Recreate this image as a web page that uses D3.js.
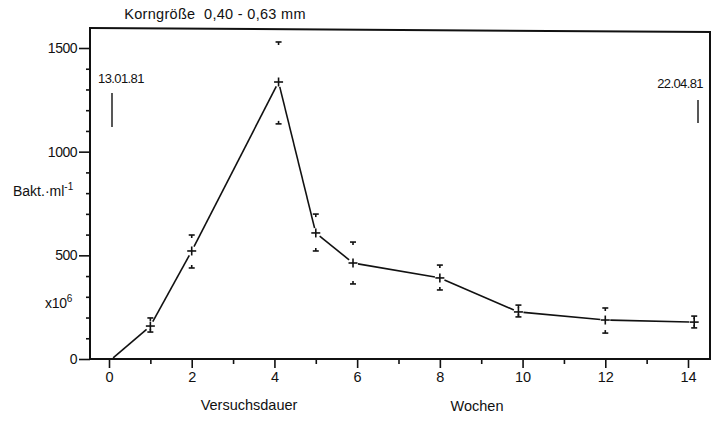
<!DOCTYPE html>
<html>
<head>
<meta charset="utf-8">
<script src="https://cdn.jsdelivr.net/npm/d3@7"></script>
<style>
  html, body { margin: 0; padding: 0; background: #fff; }
  svg { display: block; }
  text { font-family: 'Liberation Sans', Arial, sans-serif; fill: #111; }
</style>
</head>
<body>
<div id="chart"></div>
<script>
(function () {
  'use strict';

  // Versuchsdauer in Wochen, Mittelwert und Streubereich (x10^6 Bakt./ml)
  var WEEKS = [0.1, 1, 2, 4.1, 5, 5.9, 8, 9.9, 12, 14.15];
  var MEANS = [5, 159, 521, 1336, 608, 463, 391, 227, 188, 178];
  var UPPER = [null, 198, 598, 1529, 699, 564, 453, 260, 246, 207];
  var LOWER = [null, 130, 439, 1134, 521, 362, 333, 203, 125, 150];

  var X_MAJOR = [0, 2, 4, 6, 8, 10, 12, 14];
  var X_MINOR = [1, 3, 5, 7, 9, 11, 13];
  var Y_MAJOR = [0, 500, 1000, 1500];
  var Y_MINOR = d3.range(100, 1600, 100).filter(function (v) { return v % 500 !== 0; });

  var WIDTH = 711, HEIGHT = 421;
  var INK = '#111';
  var FONT = 'Liberation Sans, Arial, sans-serif';

  var FRAME_LEFT = 90, FRAME_RIGHT = 710;
  var FRAME_TOP_L = 28, FRAME_TOP_R = 32;

  var x = d3.scaleLinear().domain([0, 14]).range([109, 688]);
  var y = d3.scaleLinear().domain([0, 1500]).range([359, 48]);

  var svg = d3.select('#chart').append('svg')
    .attr('width', WIDTH)
    .attr('height', HEIGHT)
    .attr('viewBox', '0 0 ' + WIDTH + ' ' + HEIGHT);

  // ---- frame ----
  var frame = svg.append('g').attr('stroke', INK).attr('fill', 'none');
  frame.append('line')
    .attr('x1', FRAME_LEFT).attr('y1', FRAME_TOP_L)
    .attr('x2', FRAME_RIGHT + 1).attr('y2', FRAME_TOP_R)
    .attr('stroke-width', 2);
  frame.append('line')
    .attr('x1', FRAME_LEFT).attr('y1', FRAME_TOP_L - 1)
    .attr('x2', FRAME_LEFT).attr('y2', y(0) + 1)
    .attr('stroke-width', 2);
  frame.append('line')
    .attr('x1', FRAME_RIGHT).attr('y1', FRAME_TOP_R)
    .attr('x2', FRAME_RIGHT).attr('y2', y(0) + 1)
    .attr('stroke-width', 2);
  frame.append('line')
    .attr('x1', FRAME_LEFT).attr('y1', y(0))
    .attr('x2', FRAME_RIGHT).attr('y2', y(0))
    .attr('stroke-width', 2);

  // ---- axes ----
  function styleAxis(sel, size) {
    sel.select('.domain').remove();
    sel.selectAll('line').attr('stroke', INK).attr('stroke-width', 1.6);
    sel.selectAll('text')
      .attr('font-family', FONT)
      .attr('font-size', size + 'px')
      .attr('fill', INK);
  }

  var xMajor = svg.append('g')
    .attr('transform', 'translate(0,' + y(0) + ')')
    .call(d3.axisBottom(x).tickValues(X_MAJOR).tickSize(9).tickPadding(4)
      .tickFormat(d3.format('d')));
  styleAxis(xMajor, 14.5);

  var xMinor = svg.append('g')
    .attr('transform', 'translate(0,' + y(0) + ')')
    .call(d3.axisBottom(x).tickValues(X_MINOR).tickSize(5).tickFormat(''));
  styleAxis(xMinor, 14);

  var yMajor = svg.append('g')
    .attr('transform', 'translate(' + FRAME_LEFT + ',0)')
    .call(d3.axisLeft(y).tickValues(Y_MAJOR).tickSize(11).tickPadding(2)
      .tickFormat(d3.format('d')));
  styleAxis(yMajor, 14);
  yMajor.selectAll('text').attr('letter-spacing', '-0.5px');

  var yMinor = svg.append('g')
    .attr('transform', 'translate(' + FRAME_LEFT + ',0)')
    .call(d3.axisLeft(y).tickValues(Y_MINOR).tickSize(4).tickFormat(''));
  styleAxis(yMinor, 14);

  // ---- connecting line, with small gaps at the markers ----
  var GAP = 5;
  var lineGroup = svg.append('g')
    .attr('stroke', INK).attr('stroke-width', 1.6).attr('fill', 'none');
  for (var i = 0; i < WEEKS.length - 1; i++) {
    var x1 = x(WEEKS[i]), y1 = y(MEANS[i]);
    var x2 = x(WEEKS[i + 1]), y2 = y(MEANS[i + 1]);
    var len = Math.sqrt((x2 - x1) * (x2 - x1) + (y2 - y1) * (y2 - y1));
    var ux = (x2 - x1) / len, uy = (y2 - y1) / len;
    var g0 = i === 0 ? 0 : GAP;
    lineGroup.append('line')
      .attr('x1', x1 + ux * g0).attr('y1', y1 + uy * g0)
      .attr('x2', x2 - ux * GAP).attr('y2', y2 - uy * GAP);
  }

  // ---- markers and error marks ----
  var marks = svg.append('g').attr('stroke', INK).attr('stroke-width', 1.6).attr('fill', 'none');
  WEEKS.forEach(function (w, i) {
    if (UPPER[i] === null) return;
    var cx = x(w), cy = y(MEANS[i]);
    marks.append('line').attr('x1', cx - 4.5).attr('x2', cx + 4.5).attr('y1', cy).attr('y2', cy);
    marks.append('line').attr('x1', cx).attr('x2', cx).attr('y1', cy - 4.5).attr('y2', cy + 4.5);

    var ty = y(UPPER[i]), by = y(LOWER[i]);
    marks.append('line').attr('x1', cx - 3).attr('x2', cx + 3).attr('y1', ty).attr('y2', ty);
    marks.append('line').attr('x1', cx).attr('x2', cx).attr('y1', ty).attr('y2', ty + 3);
    marks.append('line').attr('x1', cx - 3).attr('x2', cx + 3).attr('y1', by).attr('y2', by);
    marks.append('line').attr('x1', cx).attr('x2', cx).attr('y1', by).attr('y2', by - 3);
  });

  // ---- date markers ----
  svg.append('line').attr('x1', 112).attr('x2', 112).attr('y1', 93).attr('y2', 127)
    .attr('stroke', INK).attr('stroke-width', 1.4);
  svg.append('line').attr('x1', 698).attr('x2', 698).attr('y1', 100).attr('y2', 123)
    .attr('stroke', INK).attr('stroke-width', 1.4);

  function label(txt, lx, ly, size, anchor) {
    return svg.append('text')
      .attr('x', lx).attr('y', ly)
      .attr('font-size', size + 'px')
      .attr('text-anchor', anchor || 'start')
      .text(txt);
  }

  label('13.01.81', 98, 83, 13).attr('letter-spacing', '-0.6px');
  label('22.04.81', 703, 88, 13, 'end').attr('letter-spacing', '-0.6px');

  label('Korngröße  0,40 - 0,63 mm', 215, 19, 14.5, 'middle')
    .attr('letter-spacing', '0.3px')
    .style('white-space', 'pre');

  var bakt = label('Bakt.·ml', 13, 196, 14);
  bakt.append('tspan').attr('dy', -6).attr('font-size', '10px').text('-1');

  var x10 = label('x10', 45, 308, 14).attr('letter-spacing', '-0.3px');
  x10.append('tspan').attr('dy', -6).attr('font-size', '10px').text('6');

  label('Versuchsdauer', 249, 410, 14.5, 'middle');
  label('Wochen', 477, 411, 14.5, 'middle');
})();
</script>
</body>
</html>
